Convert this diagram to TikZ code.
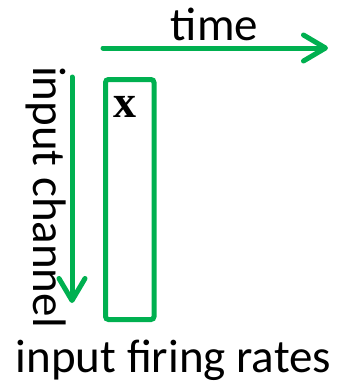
\documentclass[tikz,border=0pt]{standalone}
\usepackage{fontspec}
\setmainfont{Carlito}
\newfontfamily\serifbold{Liberation Serif}
\usetikzlibrary{arrows.meta}
\definecolor{offgreen}{HTML}{00B050}
\tikzset{
  arr/.style={draw=offgreen, line width=5pt, line cap=round,
    -{Straight Barb[length=22pt,width=26pt,line cap=round,line join=round]}},
  lbl/.style={font=\fontsize{47}{55}\selectfont, inner sep=0pt, anchor=base},
  boxst/.style={draw=offgreen, line width=5pt, rounded corners=3pt, minimum width=48.5pt, minimum height=240pt, inner sep=0pt}
}
\begin{document}
\begin{tikzpicture}[x=1pt,y=-1pt]
\useasboundingbox (0,0) rectangle (338,384);
\node[lbl] (time) at (214.5,40) {time};
\coordinate (t0) at (103,48);
\coordinate (t1) at (328,48);
\draw[arr] (t0) -- (t1);
\node[lbl, rotate=-90] (chan) at (34,197) {input channel};
\coordinate (c0) at (72,77);
\coordinate (c1) at (72,303);
\draw[arr] (c0) -- (c1);
\node[boxst] (box) at (129.75,199.5) {};
\node[font=\serifbold\bfseries\fontsize{46}{50}\selectfont, inner sep=0pt, anchor=base] (x) at (125,117) {x};
\node[lbl] (rates) at (173.5,372) {input firing rates};
\end{tikzpicture}
\end{document}
